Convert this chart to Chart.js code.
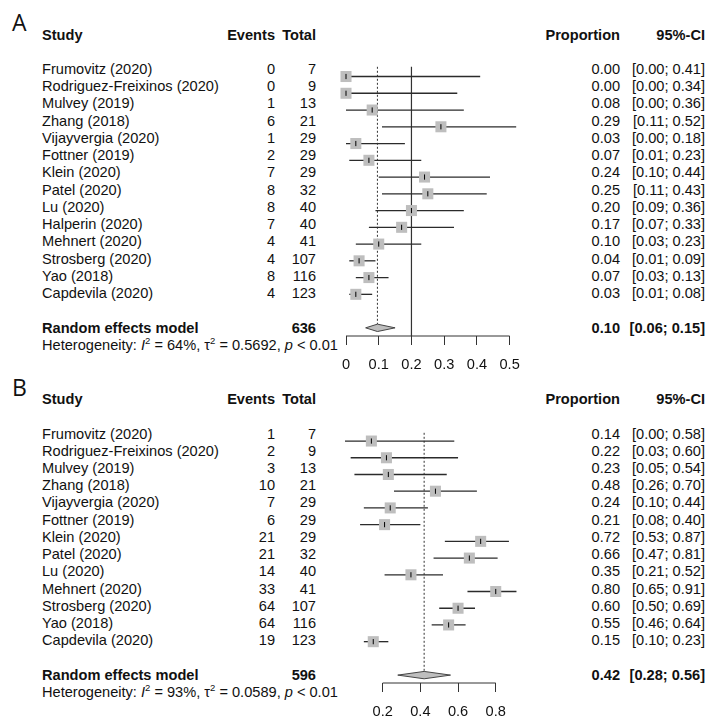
<!DOCTYPE html>
<html>
<head>
<meta charset="utf-8">
<script src="https://cdn.jsdelivr.net/npm/chart.js@4.4.0/dist/chart.umd.min.js"></script>
<style>
  html, body { margin:0; padding:0; background:#fff; }
  #page { position:relative; width:721px; height:726px; overflow:hidden;
          font-family:"Liberation Sans", Arial, sans-serif; font-size:14.6px; color:#111; }
  .t { position:absolute; white-space:nowrap; line-height:1; transform:translateY(-50%); }
  .b { font-weight:bold; }
  .letter { font-family:"Open Sans", sans-serif; font-size:23px; }
  .sup { position:relative; top:-6px; font-size:9.5px; }
  .plot { position:absolute; }
</style>
</head>
<body>
<div id="page"></div>
<script>
// ---- data: panel A ----
const studiesA = ["Frumovitz (2020)", "Rodriguez-Freixinos (2020)", "Mulvey (2019)", "Zhang (2018)",
  "Vijayvergia (2020)", "Fottner (2019)", "Klein (2020)", "Patel (2020)", "Lu (2020)",
  "Halperin (2020)", "Mehnert (2020)", "Strosberg (2020)", "Yao (2018)", "Capdevila (2020)"];
const eventsA = [0, 0, 1, 6, 1, 2, 7, 8, 8, 7, 4, 4, 8, 4];
const totalA  = [7, 9, 13, 21, 29, 29, 29, 32, 40, 40, 41, 107, 116, 123];
const propA   = [0.00, 0.00, 0.08, 0.29, 0.03, 0.07, 0.24, 0.25, 0.20, 0.17, 0.10, 0.04, 0.07, 0.03];
const lowerA  = [0.00, 0.00, 0.00, 0.11, 0.00, 0.01, 0.10, 0.11, 0.09, 0.07, 0.03, 0.01, 0.03, 0.01];
const upperA  = [0.41, 0.34, 0.36, 0.52, 0.18, 0.23, 0.44, 0.43, 0.36, 0.33, 0.23, 0.09, 0.13, 0.08];
const pooledA = [0.096, 0.06, 0.15];   // estimate, lower, upper
const sumTotalA = 636;
const hetA = ["64%", "0.5692", "< 0.01"];
const ticksA = [0, 0.1, 0.2, 0.3, 0.4, 0.5];
const refLineA = 0.2;

// ---- data: panel B ----
const studiesB = ["Frumovitz (2020)", "Rodriguez-Freixinos (2020)", "Mulvey (2019)", "Zhang (2018)",
  "Vijayvergia (2020)", "Fottner (2019)", "Klein (2020)", "Patel (2020)", "Lu (2020)",
  "Mehnert (2020)", "Strosberg (2020)", "Yao (2018)", "Capdevila (2020)"];
const eventsB = [1, 2, 3, 10, 7, 6, 21, 21, 14, 33, 64, 64, 19];
const totalB  = [7, 9, 13, 21, 29, 29, 29, 32, 40, 41, 107, 116, 123];
const propB   = [0.14, 0.22, 0.23, 0.48, 0.24, 0.21, 0.72, 0.66, 0.35, 0.80, 0.60, 0.55, 0.15];
const lowerB  = [0.00, 0.03, 0.05, 0.26, 0.10, 0.08, 0.53, 0.47, 0.21, 0.65, 0.50, 0.46, 0.10];
const upperB  = [0.58, 0.60, 0.54, 0.70, 0.44, 0.40, 0.87, 0.81, 0.52, 0.91, 0.69, 0.64, 0.23];
const pooledB = [0.42, 0.28, 0.56];
const sumTotalB = 596;
const hetB = ["93%", "0.0589", "< 0.01"];
const ticksB = [0.2, 0.4, 0.6, 0.8];
const refLineB = null;

// ---- layout (pixels) ----
const W = 721;
const AXIS_H = 40;
const PAD = 18;   // must exceed half first label + tick padding
const layoutA = { letter: "A", letterY: 22, row0: 69, rowStep: 17.24, axisY: 336, lineTopY: 59,
  zeroX: 346, pxPerUnit: 327, domain: [0, 0.55] };
const layoutB = { letter: "B", letterY: 387, row0: 433.5, rowStep: 17.24, axisY: 683, lineTopY: 425,
  zeroX: 345, pxPerUnit: 188.3, domain: [0, 0.95] };

const COL = { name: 42, events: 275, total: 316, prop: 620, ci: 705 };
const SQUARE = "#bebebe";
const INK = "#2b2b2b";

const page = document.getElementById("page");

function addText(html, x, y, align, cls){
  const el = document.createElement("div");
  el.className = "t" + (cls ? " " + cls : "");
  el.innerHTML = html;
  el.style.top = y + "px";
  if (align === "right") el.style.right = (W - x) + "px";
  else el.style.left = x + "px";
  page.appendChild(el);
  return el;
}
const f2 = v => v.toFixed(2);

function drawPanel(L, d){
  const n = d.studies.length;
  const rowY = i => L.row0 + i * L.rowStep;
  const poolRow = n + 1;

  // text table
  addText(L.letter, 12, L.letterY, "left", "letter");
  const hy = rowY(-2);
  addText("Study", COL.name, hy, "left", "b");
  addText("Events", COL.events, hy, "right", "b");
  addText("Total", COL.total, hy, "right", "b");
  addText("Proportion", COL.prop, hy, "right", "b");
  addText("95%-CI", COL.ci, hy, "right", "b");

  d.studies.forEach((s, i) => {
    const y = rowY(i);
    addText(s, COL.name, y, "left");
    addText(String(d.events[i]), COL.events, y, "right");
    addText(String(d.total[i]), COL.total, y, "right");
    addText(f2(d.prop[i]), COL.prop, y, "right");
    addText("[" + f2(d.lower[i]) + "; " + f2(d.upper[i]) + "]", COL.ci, y, "right");
  });

  const py = rowY(poolRow);
  addText("Random effects model", COL.name, py, "left", "b");
  addText(String(d.sumTotal), COL.total, py, "right", "b");
  addText(f2(d.pooled[0]), COL.prop, py, "right", "b");
  addText("[" + f2(d.pooled[1]) + "; " + f2(d.pooled[2]) + "]", COL.ci, py, "right", "b");
  addText("Heterogeneity: <i>I</i><span class='sup'>2</span> = " + d.het[0] +
    ", &tau;<span class='sup'>2</span> = " + d.het[1] + ", <i>p</i> " + d.het[2].replace("<", "&lt;"),
    COL.name, rowY(poolRow + 1), "left");

  // chart canvas: chart area spans the domain, rows map through the y scale
  const chartLeft = L.zeroX + L.domain[0] * L.pxPerUnit;
  const chartW = (L.domain[1] - L.domain[0]) * L.pxPerUnit;
  const canvasW = Math.round(chartW + 2 * PAD);
  const canvasH = Math.round(L.axisY - L.lineTopY + AXIS_H);
  const wrap = document.createElement("div");
  wrap.className = "plot";
  wrap.style.left = (chartLeft - PAD) + "px";
  wrap.style.top = L.lineTopY + "px";
  const cv = document.createElement("canvas");
  cv.width = canvasW; cv.height = canvasH;
  cv.style.width = canvasW + "px"; cv.style.height = canvasH + "px";
  wrap.appendChild(cv);
  page.appendChild(wrap);

  const yMin = (L.lineTopY - L.row0) / L.rowStep;
  const yMax = (L.axisY - L.row0) / L.rowStep;
  const halfDiamond = 0.22;
  const [pe, pl, pu] = d.pooled;

  const datasets = [];
  // estimate ticks
  datasets.push({ data: d.prop.map((p, i) => ({ x: p, y: i })), pointStyle: "line", rotation: 90,
    pointRadius: 2.6, borderColor: "#000", borderWidth: 1, order: 0, clip: false });
  // squares
  datasets.push({ data: d.prop.map((p, i) => ({ x: p, y: i })), pointStyle: "rect",
    pointRadius: 7.8, backgroundColor: SQUARE, borderWidth: 0, order: 1, clip: false });
  // pooled diamond
  datasets.push({ data: [{x: pl, y: poolRow}, {x: pe, y: poolRow - halfDiamond}, {x: pu, y: poolRow},
      {x: pe, y: poolRow + halfDiamond}, {x: pl, y: poolRow}],
    showLine: true, fill: "shape", backgroundColor: SQUARE, borderColor: "#444", borderWidth: 1,
    pointRadius: 0, tension: 0, order: 1, clip: false });
  // CI lines
  d.lower.forEach((lo, i) => {
    datasets.push({ data: [{x: lo, y: i}, {x: d.upper[i], y: i}], showLine: true,
      borderColor: INK, borderWidth: 1.3, pointRadius: 0, order: 2, clip: false });
  });
  // pooled estimate (dotted)
  datasets.push({ data: [{x: pe, y: yMin}, {x: pe, y: poolRow - halfDiamond}], showLine: true,
    borderColor: "#333", borderWidth: 1, borderDash: [2, 2], pointRadius: 0, order: 3, clip: false });
  // reference line
  if (d.refLine !== null) {
    datasets.push({ data: [{x: d.refLine, y: yMin}, {x: d.refLine, y: yMax}], showLine: true,
      borderColor: "#333", borderWidth: 1.2, pointRadius: 0, order: 3, clip: false });
  }
  // axis line only over the tick range
  datasets.push({ data: [{x: d.ticks[0], y: yMax}, {x: d.ticks[d.ticks.length - 1], y: yMax}],
    showLine: true, borderColor: "#333", borderWidth: 1, pointRadius: 0, order: 3, clip: false });

  new Chart(cv, {
    type: "scatter",
    data: { datasets },
    options: {
      responsive: false, animation: false, devicePixelRatio: 1, events: [],
      layout: { padding: { left: PAD, right: PAD, top: 0, bottom: 0 } },
      plugins: { legend: { display: false }, tooltip: { enabled: false } },
      scales: {
        x: {
          type: "linear", min: L.domain[0], max: L.domain[1],
          afterBuildTicks: s => { s.ticks = d.ticks.map(v => ({ value: v })); },
          afterFit: s => { s.height = AXIS_H; },
          ticks: { padding: 11, color: "#111", autoSkip: false, maxRotation: 0,
            font: { family: "'Liberation Sans', Arial, sans-serif", size: 14.6 },
            callback: v => String(Math.round(v * 10) / 10) },
          grid: { drawOnChartArea: false, drawTicks: true, tickLength: 9, color: "#333", lineWidth: 1 },
          border: { display: false }
        },
        y: { type: "linear", display: false, reverse: true, min: yMin, max: yMax }
      }
    }
  });
}

drawPanel(layoutA, { studies: studiesA, events: eventsA, total: totalA, prop: propA, lower: lowerA,
  upper: upperA, pooled: pooledA, sumTotal: sumTotalA, het: hetA, ticks: ticksA, refLine: refLineA });
drawPanel(layoutB, { studies: studiesB, events: eventsB, total: totalB, prop: propB, lower: lowerB,
  upper: upperB, pooled: pooledB, sumTotal: sumTotalB, het: hetB, ticks: ticksB, refLine: refLineB });
</script>
</body>
</html>
